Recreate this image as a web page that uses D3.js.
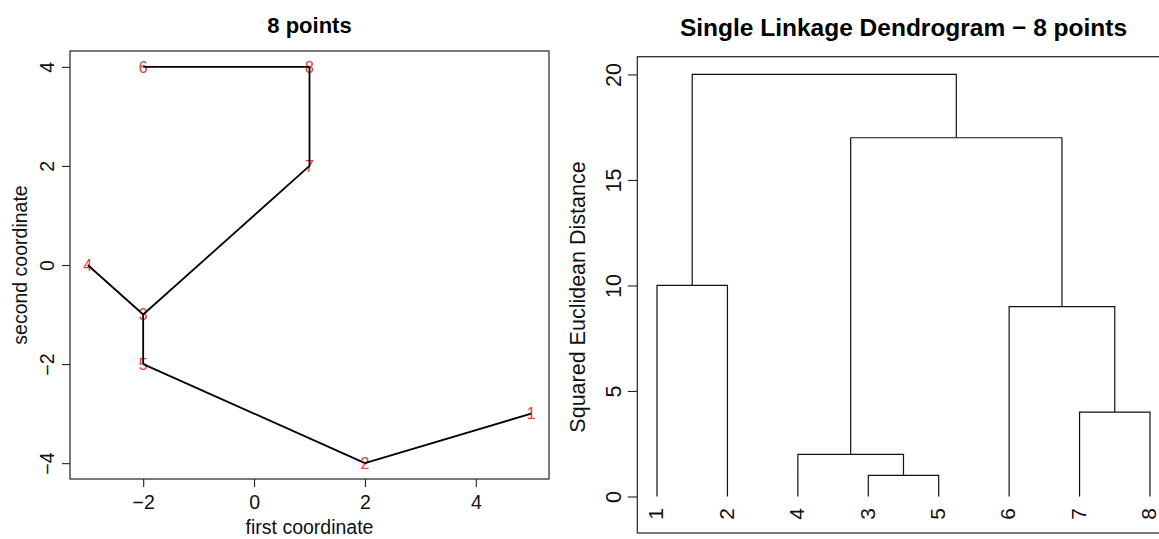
<!DOCTYPE html>
<html>
<head>
<meta charset="utf-8">
<script src="https://cdn.jsdelivr.net/npm/d3@7"></script>
<style>
body { margin: 0; background: #fff; }
svg { display: block; font-family: "Liberation Sans", Arial, sans-serif; }
</style>
</head>
<body>
<div id="chart"></div>
<script>
// ---------------------- data: the 8 points and their spanning tree ----------------------
var pointLabels = ["1", "2", "3", "4", "5", "6", "7", "8"];
var pointX = [5, 2, -2, -3, -2, -2, 1, 1];
var pointY = [-3, -4, -1, 0, -2, 4, 2, 4];
var edgeFrom = [6, 8, 7, 3, 3, 5, 2];
var edgeTo = [8, 7, 3, 4, 5, 2, 1];
var xTicksLeft = [-2, 0, 2, 4];
var yTicksLeft = [-4, -2, 0, 2, 4];

// ---------------------- data: single linkage merges (R hclust style) ----------------------
var leafOrder = [1, 2, 4, 3, 5, 6, 7, 8];
var mergeA = [-3, -4, -7, -6, -1, 2, 5];
var mergeB = [-5, 1, -8, 3, -2, 4, 6];
var mergeHeight = [1, 2, 4, 9, 10, 17, 20];
var yTicksRight = [0, 5, 10, 15, 20];

var font = "'Liberation Sans', Arial, sans-serif";

var svg = d3.select("#chart")
     .append("svg")
     .attr("width", 1159)
     .attr("height", 539);

// ---------------------- left panel: scatter with red labels ----------------------
var xL = d3.scaleLinear().domain([-3.32, 5.32]).range([70, 549]);
var yL = d3.scaleLinear().domain([-4.32, 4.32]).range([479, 51]);

svg.append("text")
     .text("8 points")
     .attr("x", 309.5)
     .attr("y", 32.5)
     .attr("text-anchor", "middle")
     .style("font-weight", "bold")
     .style("font-size", "22px");

var axB = svg.append("g")
     .attr("transform", "translate(0,479)")
     .call(d3.axisBottom(xL).tickValues(xTicksLeft).tickSize(8).tickPadding(8).tickFormat(d3.format("d")));
axB.select(".domain").remove();
axB.attr("font-size", 19.5).attr("font-family", font);
axB.selectAll("line").attr("stroke", "#222").attr("stroke-width", 1.1);
axB.selectAll("text").attr("fill", "#111");

var axL = svg.append("g")
     .attr("transform", "translate(70,0)")
     .call(d3.axisLeft(yL).tickValues(yTicksLeft).tickSize(8).tickFormat(d3.format("d")));
axL.select(".domain").remove();
axL.attr("font-size", 19.5).attr("font-family", font);
axL.selectAll("line").attr("stroke", "#222").attr("stroke-width", 1.1);
axL.selectAll("text")
     .attr("fill", "#111")
     .attr("transform", "rotate(-90)")
     .attr("x", 0)
     .attr("y", -16)
     .attr("dy", 0)
     .attr("text-anchor", "middle");

svg.append("rect")
     .attr("x", 70).attr("y", 51)
     .attr("width", 479).attr("height", 428)
     .attr("fill", "none")
     .attr("stroke", "#222")
     .attr("stroke-width", 1.2);

svg.append("text")
     .text("first coordinate")
     .attr("x", 309.5)
     .attr("y", 534)
     .attr("text-anchor", "middle")
     .style("font-size", "19.5px")
     .attr("fill", "#111");

svg.append("text")
     .text("second coordinate")
     .attr("transform", "translate(27,265) rotate(-90)")
     .attr("text-anchor", "middle")
     .style("font-size", "19.5px")
     .attr("fill", "#111");

svg.selectAll("text.pt")
     .data(pointLabels)
     .enter()
     .append("text")
     .attr("class", "pt")
     .text(function(d) { return d; })
     .attr("x", function(d, i) { return xL(pointX[i]); })
     .attr("y", function(d, i) { return yL(pointY[i]); })
     .attr("dy", "0.36em")
     .attr("text-anchor", "middle")
     .style("font-size", "16px")
     .attr("fill", "#e5413b");

svg.selectAll("line.edge")
     .data(edgeFrom)
     .enter()
     .append("line")
     .attr("class", "edge")
     .attr("x1", function(d) { return xL(pointX[d - 1]); })
     .attr("y1", function(d) { return yL(pointY[d - 1]); })
     .attr("x2", function(d, i) { return xL(pointX[edgeTo[i] - 1]); })
     .attr("y2", function(d, i) { return yL(pointY[edgeTo[i] - 1]); })
     .attr("stroke", "#000")
     .attr("stroke-width", 1.8);

// ---------------------- right panel: dendrogram ----------------------
var xR = d3.scaleLinear().domain([0.72, 8.28]).range([637.3, 1169.7]);
var yR = d3.scaleLinear().domain([-1.73, 20.84]).range([533, 56.7]);

svg.append("text")
     .text("Single Linkage Dendrogram \u2212 8 points")
     .attr("x", 903.5)
     .attr("y", 35.5)
     .attr("text-anchor", "middle")
     .style("font-weight", "bold")
     .style("font-size", "24.5px");

var axR = svg.append("g")
     .attr("transform", "translate(637.3,0)")
     .call(d3.axisLeft(yR).tickValues(yTicksRight).tickSize(9.5).tickFormat(d3.format("d")));
axR.select(".domain").remove();
axR.attr("font-size", 21.5).attr("font-family", font);
axR.selectAll("line").attr("stroke", "#222").attr("stroke-width", 1.1);
axR.selectAll("text")
     .attr("fill", "#111")
     .attr("transform", "rotate(-90)")
     .attr("x", 0)
     .attr("y", -16.5)
     .attr("dy", 0)
     .attr("text-anchor", "middle");

svg.append("rect")
     .attr("x", 637.3).attr("y", 56.7)
     .attr("width", 532.4).attr("height", 476.3)
     .attr("fill", "none")
     .attr("stroke", "#222")
     .attr("stroke-width", 1.2);

svg.append("text")
     .text("Squared Euclidean Distance")
     .attr("transform", "translate(585,297) rotate(-90)")
     .attr("text-anchor", "middle")
     .style("font-size", "21.5px")
     .attr("fill", "#111");

// position of each leaf / merged cluster
var nodeX = [], nodeH = [];
function pos(id) {
     if (id < 0) return [xR(leafOrder.indexOf(-id) + 1), 0];
     return [nodeX[id - 1], nodeH[id - 1]];
}
mergeHeight.forEach(function(h, i) {
     var a = pos(mergeA[i]), b = pos(mergeB[i]);
     nodeX.push((a[0] + b[0]) / 2);
     nodeH.push(h);
});

svg.selectAll("path.link")
     .data(mergeHeight)
     .enter()
     .append("path")
     .attr("class", "link")
     .attr("d", function(h, i) {
          var a = pos(mergeA[i]), b = pos(mergeB[i]);
          return "M" + a[0] + "," + yR(a[1]) + "V" + yR(h) + "H" + b[0] + "V" + yR(b[1]);
     })
     .attr("fill", "none")
     .attr("stroke", "#111")
     .attr("stroke-width", 1.2);

svg.selectAll("text.leaf")
     .data(leafOrder)
     .enter()
     .append("text")
     .attr("class", "leaf")
     .text(function(d) { return d; })
     .attr("transform", function(d, i) { return "translate(" + xR(i + 1) + "," + (yR(0) + 11.5) + ") rotate(-90)"; })
     .attr("dy", "0.3em")
     .attr("text-anchor", "end")
     .style("font-size", "21px")
     .attr("fill", "#111");
</script>
</body>
</html>
